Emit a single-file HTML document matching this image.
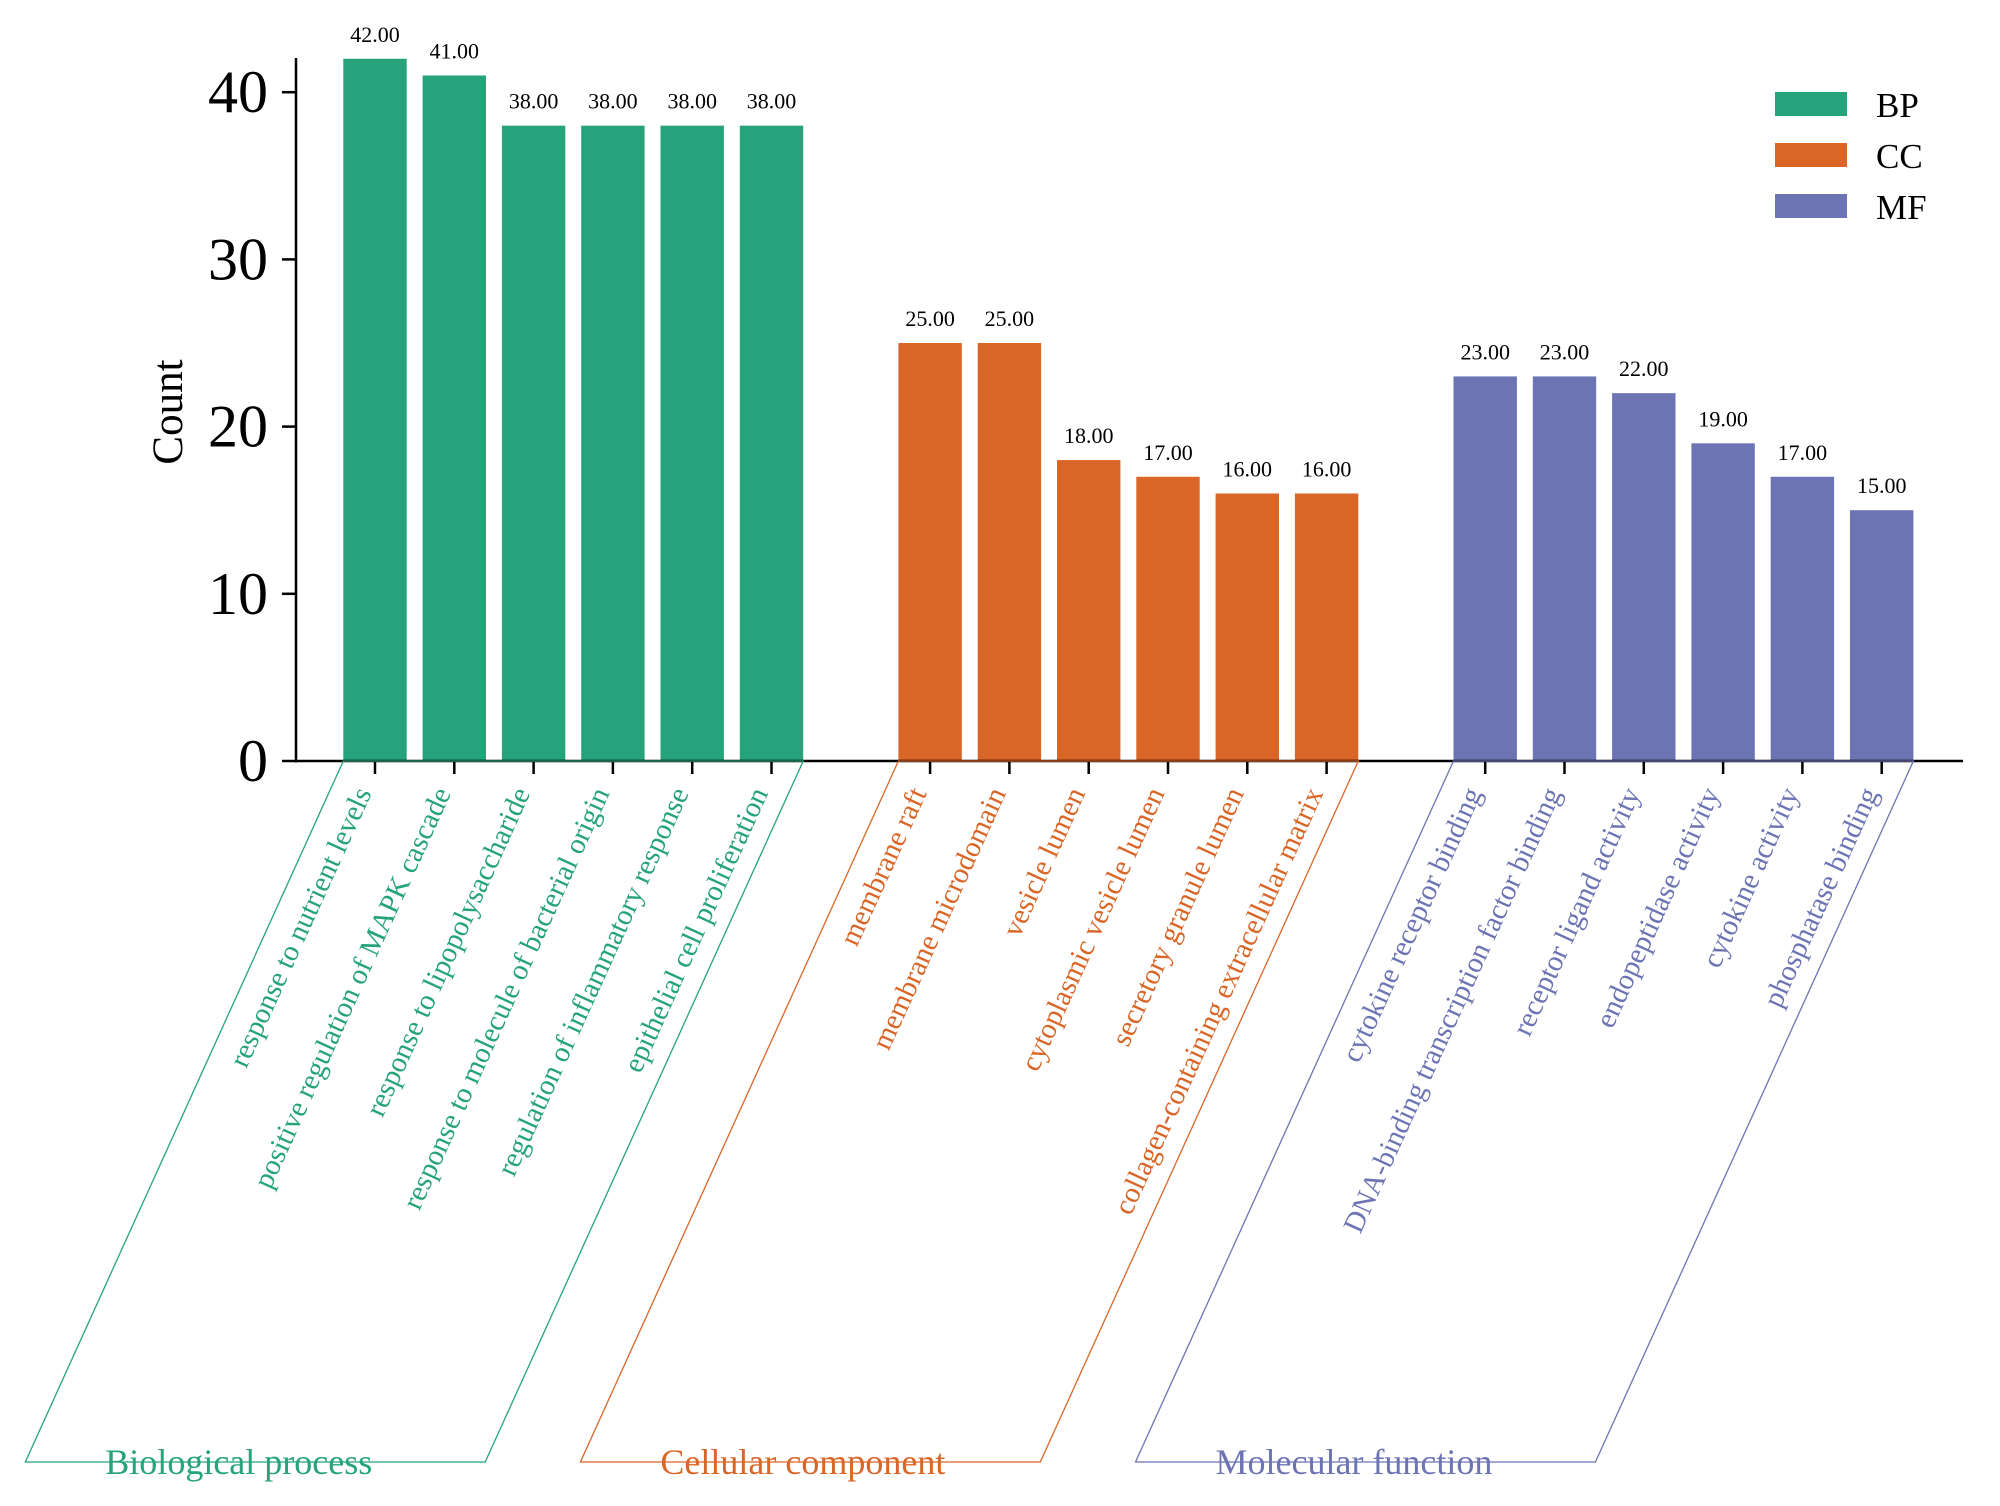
<!DOCTYPE html>
<html><head><meta charset="utf-8"><style>
html,body{margin:0;padding:0;background:#fff;}
svg{display:block;font-family:"Liberation Serif","Times New Roman",serif;}
</style></head><body>
<svg id="chart" width="2000" height="1506" viewBox="0 0 2000 1506" xmlns="http://www.w3.org/2000/svg"></svg>
<script>
const categories = ["response to nutrient levels","positive regulation of MAPK cascade","response to lipopolysaccharide","response to molecule of bacterial origin","regulation of inflammatory response","epithelial cell proliferation",
"membrane raft","membrane microdomain","vesicle lumen","cytoplasmic vesicle lumen","secretory granule lumen","collagen-containing extracellular matrix",
"cytokine receptor binding","DNA-binding transcription factor binding","receptor ligand activity","endopeptidase activity","cytokine activity","phosphatase binding"];
const counts = [42,41,38,38,38,38, 25,25,18,17,16,16, 23,23,22,19,17,15];
const groupOf = ["BP","BP","BP","BP","BP","BP","CC","CC","CC","CC","CC","CC","MF","MF","MF","MF","MF","MF"];
const groups = ["BP","CC","MF"];
const groupNames = ["Biological process","Cellular component","Molecular function"];
const yTicks = [0,10,20,30,40];

const colors = {BP:"#26a37b", CC:"#d96627", MF:"#6c74b3"};
const svg = document.getElementById('chart');
const NS = "http://www.w3.org/2000/svg";
function mk(tag, attrs, parent){const e=document.createElementNS(NS,tag);for(const k in attrs)e.setAttribute(k,attrs[k]);(parent||svg).appendChild(e);return e;}

const x0=296, x1=1963, yBase=761, yPerUnit=16.72, step=79.3, c0=375, bw=63.4;
function yScale(v){return yBase - v*yPerUnit;}
function slot(i){const g=groups.indexOf(groupOf[i]); return i + g;}
function xCenter(i){return c0 + slot(i)*step;}

// bars
categories.forEach((c,i)=>{
  const cx=xCenter(i), y=yScale(counts[i]);
  const r=mk('rect',{x:cx-bw/2,y:y,width:bw,height:yBase-y,fill:colors[groupOf[i]]});
  
  
  const t=mk('text',{x:cx,y:y-17,'font-size':22,'text-anchor':'middle',fill:'#000'});
  t.textContent=counts[i].toFixed(2);
  
  
  const tk=mk('line',{x1:cx,x2:cx,y1:yBase,y2:yBase+13,stroke:'#000','stroke-width':2.5});
  
  
  const lab=mk('text',{x:0,y:0,'font-size':29,'text-anchor':'end',fill:colors[groupOf[i]],transform:`translate(${cx-3},${yBase+32}) rotate(-65.5)`});
  lab.textContent=c;
  
  
});

// axes
const ya=mk('line',{x1:x0,x2:x0,y1:58,y2:yBase+1.5,stroke:'#000','stroke-width':2.5});


const xa=mk('line',{x1:x0-1,x2:x1,y1:yBase,y2:yBase,stroke:'#000','stroke-width':2.5});


yTicks.forEach(v=>{
  const y=yScale(v);
  const l=mk('line',{x1:x0-14,x2:x0,y1:y,y2:y,stroke:'#000','stroke-width':2.5});
  
  
  const t=mk('text',{x:268,y:y+20,'font-size':60,'text-anchor':'end',fill:'#000'});
  t.textContent=v;
  
  
});
const yt=mk('text',{x:0,y:0,'font-size':43,'text-anchor':'middle',fill:'#000',transform:'translate(182,412) rotate(-90)'});
yt.textContent='Count';



// group parallelograms
groups.forEach((g,gi)=>{
  const idx=groupOf.map((v,i)=>v===g?i:-1).filter(i=>i>=0);
  const left=xCenter(idx[0])-bw/2, right=xCenter(idx[idx.length-1])+bw/2, off=318, yb=1462;
  const p=mk('polygon',{points:`${left},${yBase} ${right},${yBase} ${right-off},${yb} ${left-off},${yb}`,fill:'none',stroke:colors[g],'stroke-width':1.3});
  
  
  const t=mk('text',{x:left-off+80,y:yb+12,'font-size':36,fill:colors[g]});
  t.textContent=groupNames[gi];
  
  
});

// legend
groups.forEach((g,gi)=>{
  const y=92+gi*51;
  const r=mk('rect',{x:1775,y:y,width:72,height:24,fill:colors[g]});
  
  
  const t=mk('text',{x:1876,y:y+25,'font-size':35,fill:'#000'});
  t.textContent=g;
  
  
});
</script>
</body></html>
